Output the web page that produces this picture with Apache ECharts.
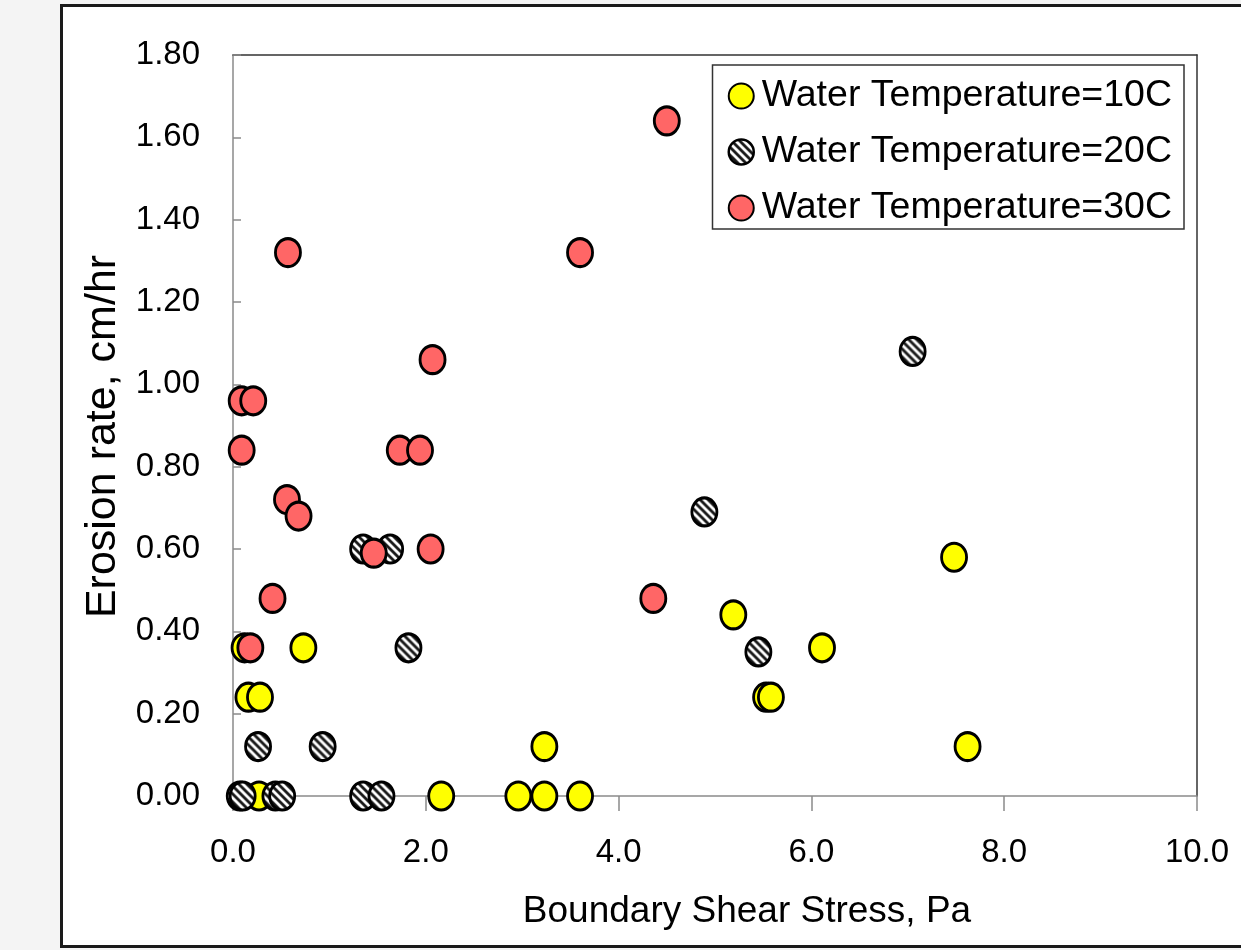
<!DOCTYPE html>
<html>
<head>
<meta charset="utf-8">
<script src="https://cdn.jsdelivr.net/npm/echarts@6/dist/echarts.min.js"></script>
<style>
html,body{margin:0;padding:0;background:#f4f4f4;}
#frame{position:absolute;left:60px;top:4px;width:1200px;height:938px;border:3px solid #1a1a1a;background:#fff;}
#chart{position:absolute;left:0;top:0;width:1241px;height:950px;}
</style>
</head>
<body>
<div id="frame"></div>
<div id="chart"></div>
<script>
// ---- data ----
const seriesNames = ['Water Temperature=10C', 'Water Temperature=20C', 'Water Temperature=30C'];
const xTicks = [0, 2, 4, 6, 8, 10];
const yTicks = [0, 0.2, 0.4, 0.6, 0.8, 1.0, 1.2, 1.4, 1.6, 1.8];
const temp10 = [
  [0.12, 0.36], [0.16, 0.24], [0.28, 0.24], [0.73, 0.36], [0.27, 0.00],
  [2.16, 0.00], [2.96, 0.00], [3.23, 0.00], [3.60, 0.00], [3.23, 0.12],
  [5.19, 0.44], [5.53, 0.24], [5.58, 0.24], [6.11, 0.36], [7.48, 0.58], [7.62, 0.12]
];
const temp20 = [
  [0.07, 0.00], [0.10, 0.00], [0.44, 0.00], [0.51, 0.00], [1.35, 0.00], [1.54, 0.00],
  [0.26, 0.12], [0.93, 0.12], [1.35, 0.60], [1.63, 0.60], [1.82, 0.36],
  [4.89, 0.69], [5.45, 0.35], [7.05, 1.08]
];
const temp30 = [
  [0.09, 0.96], [0.21, 0.96], [0.09, 0.84], [0.57, 1.32], [0.18, 0.36], [0.41, 0.48],
  [0.56, 0.72], [0.68, 0.68], [1.46, 0.59], [1.73, 0.84], [1.94, 0.84], [2.05, 0.60],
  [2.07, 1.06], [3.60, 1.32], [4.36, 0.48], [4.50, 1.64]
];

const SYM_W = 25, SYM_H = 28;

// hatch pattern
function makeHatch() {
  const s = 8;
  const c = document.createElement('canvas');
  c.width = s; c.height = s;
  const g = c.getContext('2d');
  g.fillStyle = '#ffffff';
  g.fillRect(0, 0, s, s);
  g.strokeStyle = '#1a1a1a';
  g.lineWidth = 2.8;
  for (let k = -1; k <= 1; k++) {
    g.beginPath();
    g.moveTo(-1, k * s - 1);
    g.lineTo(s + 1, k * s + s + 1);
    g.stroke();
  }
  return c;
}
const hatch = makeHatch();
// symbols are drawn as unit paths scaled by size/2, so counter-scale the pattern
const hatchSymbol = {image: hatch, repeat: 'repeat', scaleX: 2 / SYM_W, scaleY: 2 / SYM_H};
const hatchLegend = {image: hatch, repeat: 'repeat'};

const chart = echarts.init(document.getElementById('chart'), null, {renderer: 'canvas'});
const axisGray = '#8a8a8a';
const sans = '"Liberation Sans", Arial, sans-serif';

function mk(name, data, color) {
  return {
    name: name,
    type: 'scatter',
    data: data,
    symbol: 'circle',
    symbolSize: [SYM_W, SYM_H],
    itemStyle: {color: color, borderColor: '#000', borderWidth: 3, opacity: 1},
    emphasis: {disabled: true}
  };
}

chart.setOption({
  animation: false,
  backgroundColor: 'transparent',
  grid: {left: 233, top: 55, right: 44, bottom: 154, containLabel: false},
  legend: {
    data: [
      {name: seriesNames[0]},
      {name: seriesNames[1], itemStyle: {color: hatchLegend, borderColor: '#000', borderWidth: 2.5}},
      {name: seriesNames[2]}
    ],
    orient: 'vertical',
    right: 57, top: 65,
    padding: [12, 12, 2, 15],
    itemWidth: 25, itemHeight: 28, itemGap: 18,
    backgroundColor: '#fff',
    borderColor: '#333', borderWidth: 1.5,
    textStyle: {fontFamily: sans, fontSize: 37.5, color: '#000', padding: [0, 0, 0, 3]},
    selectedMode: false
  },
  xAxis: [{
    type: 'value', min: 0, max: 10, interval: 2,
    name: 'Boundary Shear Stress, Pa',
    nameLocation: 'middle', nameGap: 97,
    nameTextStyle: {fontFamily: sans, fontSize: 37, color: '#000', padding: [0, 0, 0, 64]},
    axisLine: {show: true, lineStyle: {color: axisGray, width: 1.5}},
    axisTick: {show: true, inside: false, length: 15, lineStyle: {color: axisGray, width: 1.5}},
    axisLabel: {fontFamily: sans, fontSize: 33, color: '#000', margin: 40,
      formatter: v => xTicks.includes(v) ? v.toFixed(1) : ''},
    splitLine: {show: false}
  }, {
    type: 'value', min: 0, max: 10, position: 'top',
    axisLine: {show: true, onZero: false, lineStyle: {color: '#333', width: 1.5}},
    axisTick: {show: false}, axisLabel: {show: false}, splitLine: {show: false}
  }],
  yAxis: [{
    type: 'value', min: 0, max: 1.8, interval: 0.2,
    name: 'Erosion rate, cm/hr',
    nameLocation: 'middle', nameGap: 89, nameRotate: 90,
    nameTextStyle: {fontFamily: sans, fontSize: 43, color: '#000', padding: [0, 22, 0, 0]},
    axisLine: {show: true, lineStyle: {color: axisGray, width: 1.5}},
    axisTick: {show: true, inside: true, length: 8, lineStyle: {color: axisGray, width: 1.5}},
    axisLabel: {fontFamily: sans, fontSize: 33, color: '#000', margin: 33,
      formatter: v => v.toFixed(2)},
    splitLine: {show: false}
  }, {
    type: 'value', min: 0, max: 1.8, position: 'right',
    axisLine: {show: true, onZero: false, lineStyle: {color: '#333', width: 1.5}},
    axisTick: {show: false}, axisLabel: {show: false}, splitLine: {show: false}
  }],
  series: [
    mk(seriesNames[0], temp10, '#ffff00'),
    mk(seriesNames[1], temp20, hatchSymbol),
    mk(seriesNames[2], temp30, '#ff6666')
  ]
});
</script>
</body>
</html>
